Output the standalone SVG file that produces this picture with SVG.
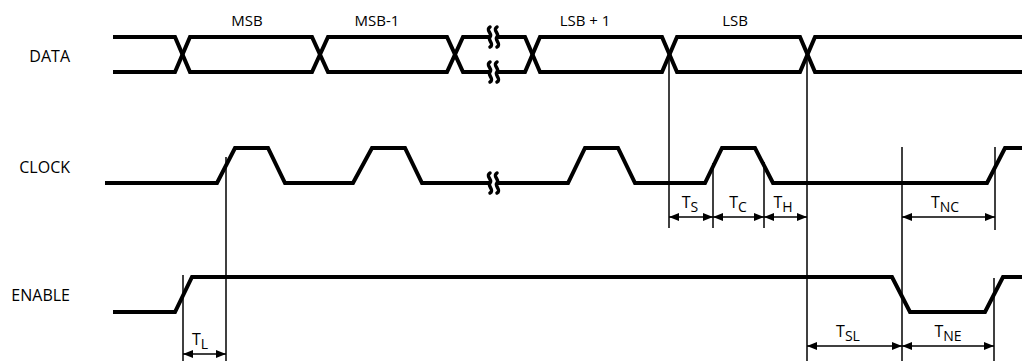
<svg xmlns="http://www.w3.org/2000/svg" width="1022" height="361" viewBox="0 0 1022 361">
<defs>
<style>
.sig{fill:none;stroke:#000;stroke-width:4;stroke-linejoin:miter}
.ref{stroke:#000;stroke-width:1.5;fill:none}
.dim{stroke:#000;stroke-width:1.5;fill:none;marker-start:url(#ah);marker-end:url(#ah)}
.lbl{font-family:"Open Sans","DejaVu Sans",sans-serif;font-size:15px;fill:#000}
.side{font-family:"Open Sans","DejaVu Sans",sans-serif;font-size:16px;fill:#000}
.tl{font-family:"Open Sans","DejaVu Sans",sans-serif;font-size:16px;fill:#000}
.brk{fill:#fff;stroke:none}
.brkl{fill:none;stroke:#000;stroke-width:3.5;stroke-linecap:round}
</style>
<marker id="ah" viewBox="0 0 10 8" refX="10" refY="4" markerWidth="10" markerHeight="8" markerUnits="userSpaceOnUse" orient="auto-start-reverse">
<path d="M0,0 L10,4 L0,8 Z" fill="#000"/>
</marker>
<path id="brkS" d="M0,-10 c-5,3 3,7 0,10 c-3,3 5,7 0,10"/>
</defs>
<g id="labels">
<text class="side" x="70" y="62" text-anchor="end">DATA</text>
<text class="side" x="70" y="173" text-anchor="end">CLOCK</text>
<text class="side" x="70" y="301" text-anchor="end">ENABLE</text>
<text class="lbl" x="247" y="26" text-anchor="middle">MSB</text>
<text class="lbl" x="377" y="26" text-anchor="middle">MSB-1</text>
<text class="lbl" x="585" y="26" text-anchor="middle">LSB + 1</text>
<text class="lbl" x="735" y="26" text-anchor="middle">LSB</text>
</g>
<g id="data">
<path class="sig" d="M113,37 H175 L190,72 H312 L328,37 H447 L463,72 H525 L540,37 H662 L677,72 H800 L815,37 H1022"/>
<path class="sig" d="M113,72 H175 L190,37 H312 L328,72 H447 L463,37 H525 L540,72 H662 L677,37 H800 L815,72 H1022"/>
<rect class="brk" x="490" y="31" width="7" height="12"/>
<rect class="brk" x="490" y="66" width="7" height="12"/>
<use href="#brkS" class="brkl" x="490" y="37"/>
<use href="#brkS" class="brkl" x="497" y="37"/>
<use href="#brkS" class="brkl" x="490" y="72"/>
<use href="#brkS" class="brkl" x="497" y="72"/>
</g>
<g id="clock">
<path class="sig" d="M105,183 H217 L235,148 H268 L285,183 H353 L372,148 H405 L422,183 H568 L585,148 H618 L635,183 H705 L722,148 H755 L773,183 H987 L1005,148 H1022"/>
<rect class="brk" x="490" y="177" width="7" height="12"/>
<use href="#brkS" class="brkl" x="490" y="183"/>
<use href="#brkS" class="brkl" x="497" y="183"/>
</g>
<g id="enable">
<path class="sig" d="M113,312 H175 L192,277 H892 L910,312 H985 L1003,277 H1022"/>
</g>
<g id="connectors">
<line class="ref" x1="226" y1="157" x2="226" y2="361"/>
<line class="ref" x1="183" y1="275" x2="183" y2="361"/>
<line class="ref" x1="669" y1="55" x2="669" y2="228"/>
<line class="ref" x1="713" y1="163" x2="713" y2="228"/>
<line class="ref" x1="764" y1="162" x2="764" y2="228"/>
<line class="ref" x1="807" y1="55" x2="807" y2="361"/>
<line class="ref" x1="902" y1="147" x2="902" y2="361"/>
<line class="ref" x1="995" y1="147" x2="995" y2="230"/>
<line class="ref" x1="994" y1="278" x2="994" y2="361"/>
<line class="dim" x1="669" y1="217" x2="713" y2="217"/>
<line class="dim" x1="713" y1="217" x2="764" y2="217"/>
<line class="dim" x1="764" y1="217" x2="807" y2="217"/>
<line class="dim" x1="902" y1="217" x2="995" y2="217"/>
<line class="dim" x1="183" y1="354" x2="226" y2="354"/>
<line class="dim" x1="807" y1="346" x2="902" y2="346"/>
<line class="dim" x1="902" y1="346" x2="994" y2="346"/>
</g>
<g id="timing-labels">
<text class="tl" x="690" y="208" text-anchor="middle">T<tspan font-size="14" dy="4">S</tspan></text>
<text class="tl" x="738" y="208" text-anchor="middle">T<tspan font-size="14" dy="4">C</tspan></text>
<text class="tl" x="783" y="208" text-anchor="middle">T<tspan font-size="14" dy="4">H</tspan></text>
<text class="tl" x="945" y="208" text-anchor="middle">T<tspan font-size="14" dy="4">NC</tspan></text>
<text class="tl" x="200" y="345" text-anchor="middle">T<tspan font-size="14" dy="4">L</tspan></text>
<text class="tl" x="848" y="337" text-anchor="middle">T<tspan font-size="14" dy="4">SL</tspan></text>
<text class="tl" x="948" y="337" text-anchor="middle">T<tspan font-size="14" dy="4">NE</tspan></text>
</g>
</svg>
